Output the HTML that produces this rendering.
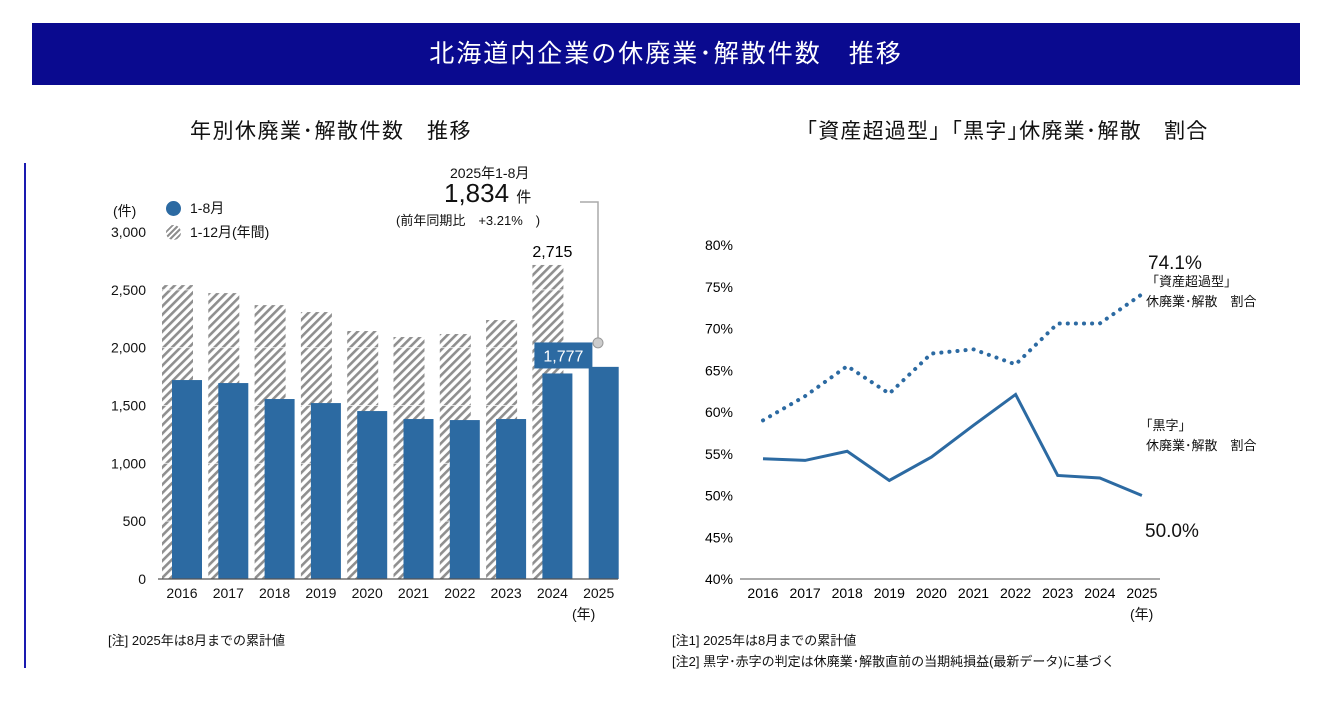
<!DOCTYPE html>
<html><head><meta charset="utf-8">
<style>
body{margin:0;width:1344px;height:712px;background:#fff;font-family:"Liberation Sans","Noto Sans CJK JP",sans-serif;overflow:hidden;position:relative;color:#111}
.t{position:absolute;white-space:nowrap}
</style></head><body>
<div style="position:absolute;left:32px;top:23px;width:1268px;height:62px;background:#0a0a8f;color:#fff;font-size:25px;line-height:62px;text-align:center;letter-spacing:2px">北海道内企業の休廃業･解散件数　推移</div>
<div style="position:absolute;left:24px;top:163px;width:2px;height:505px;background:#1a1ab0"></div>
<div class="t" style="left:190px;top:115px;font-size:21px;letter-spacing:1.5px">年別休廃業･解散件数　推移</div>
<div class="t" style="left:796px;top:115px;font-size:21px;letter-spacing:1.2px">「資産超過型」｢黒字｣休廃業･解散　割合</div>
<svg id="left" width="1344" height="712" style="position:absolute;left:0;top:0" font-family="Liberation Sans, Noto Sans CJK JP, sans-serif">
<defs><pattern id="hatch" width="6" height="6" patternUnits="userSpaceOnUse" patternTransform="rotate(45)"><rect width="6" height="6" fill="#fff"/><rect width="2.6" height="6" fill="#8f8f8f"/></pattern></defs>
</svg>
<script>
const years=["2016","2017","2018","2019","2020","2021","2022","2023","2024","2025"];
const annual=[2541,2472,2368,2308,2144,2092,2118,2239,2715,null];
const janAug=[1720,1694,1556,1521,1452,1383,1374,1383,1777,1834];
const yTicks=[0,500,1000,1500,2000,2500,3000];
const pctTicks=[40,45,50,55,60,65,70,75,80];
const assetRatio=[59.0,61.9,65.5,62.2,67.0,67.5,65.7,70.6,70.6,74.1];
const profitRatio=[54.4,54.2,55.3,51.8,54.6,58.4,62.1,52.4,52.1,50.0];
const NS="http://www.w3.org/2000/svg";
const svg=document.getElementById('left');
function mk(t,a,p){const e=document.createElementNS(NS,t);for(const k in a)e.setAttribute(k,a[k]);(p||svg).appendChild(e);return e;}
const yL=v=>579-v*(347/3000);
const xL=i=>182+i*46.3;
yTicks.forEach(v=>{const t=mk('text',{x:146,y:yL(v)+5,'text-anchor':'end','font-size':14,fill:'#111'});t.textContent=v.toLocaleString('en-US');

});
annual.forEach((v,i)=>{if(v==null)return;const r=mk('rect',{x:xL(i)-20,y:yL(v),width:31,height:579-yL(v),fill:'url(#hatch)'});

});
yTicks.forEach(v=>{if(v===0)return;const g=mk('line',{x1:158,x2:618,y1:yL(v),y2:yL(v),stroke:'#fff','stroke-width':1,opacity:0.7});

});
janAug.forEach((v,i)=>{const r=mk('rect',{x:xL(i)-10,y:yL(v),width:30,height:579-yL(v),fill:'#2c6aa2'});

});
mk('line',{x1:158,x2:618,y1:579,y2:579,stroke:'#555','stroke-width':1.2});
years.forEach((y,i)=>{const t=mk('text',{x:xL(i),y:598,'text-anchor':'middle','font-size':14,fill:'#111'});t.textContent=y;

});
let t=mk('text',{x:xL(8),y:257,'text-anchor':'middle','font-size':16});t.textContent=annual[8].toLocaleString('en-US');


mk('rect',{x:xL(8)-18,y:yL(janAug[8])-31,width:58,height:26,fill:'#2c6aa2'});
t=mk('text',{x:xL(8)+11,y:yL(janAug[8])-12,'text-anchor':'middle','font-size':16,fill:'#fff'});t.textContent=janAug[8].toLocaleString('en-US');


mk('polyline',{points:`580,202 598,202 598,${yL(janAug[9])-22}`,fill:'none',stroke:'#aaa','stroke-width':1.5});
mk('circle',{cx:598,cy:yL(janAug[9])-24,r:5,fill:'#ccc',stroke:'#999'});
const yR=v=>579-(v-40)*8.35;
const xR=i=>763+i*42.1;
pctTicks.forEach(v=>{const t=mk('text',{x:733,y:yR(v)+5,'text-anchor':'end','font-size':14});t.textContent=v+'%';

});
mk('line',{x1:740,x2:1160,y1:579,y2:579,stroke:'#555','stroke-width':1});
years.forEach((y,i)=>{const t=mk('text',{x:xR(i),y:598,'text-anchor':'middle','font-size':14});t.textContent=y;

});
let p=mk('polyline',{points:assetRatio.map((v,i)=>xR(i)+','+yR(v)).join(' '),fill:'none',stroke:'#2c6aa2','stroke-width':4,'stroke-dasharray':'0.1 8','stroke-linecap':'round'});


p=mk('polyline',{points:profitRatio.map((v,i)=>xR(i)+','+yR(v)).join(' '),fill:'none',stroke:'#2c6aa2','stroke-width':3});


</script>
<div class="t" style="left:113px;top:201px;font-size:14px">(件)</div>
<div style="position:absolute;left:166px;top:201px;width:15px;height:15px;border-radius:50%;background:#2c6aa2"></div>
<div class="t" style="left:190px;top:198px;font-size:14px">1-8月</div>
<div style="position:absolute;left:166px;top:225px;width:15px;height:15px;border-radius:50%;background:repeating-linear-gradient(135deg,#8f8f8f 0 2px,#fff 2px 4px)"></div>
<div class="t" style="left:190px;top:222px;font-size:14px">1-12月(年間)</div>
<div class="t" style="left:450px;top:163px;font-size:14px">2025年1-8月</div>
<div class="t" style="left:444px;top:178px;font-size:26px">1,834 <span style="font-size:15px">件</span></div>
<div class="t" style="left:396px;top:210px;font-size:13px">(前年同期比　+3.21%　)</div>
<div class="t" style="left:572px;top:604px;font-size:14px">(年)</div>
<div class="t" style="left:108px;top:630px;font-size:13px">[注] 2025年は8月までの累計値</div>
<div class="t" style="left:1130px;top:604px;font-size:14px">(年)</div>
<div class="t" style="left:1148px;top:253px;font-size:19px">74.1%</div>
<div class="t" style="left:1146px;top:272px;font-size:13px;line-height:20px">「資産超過型」<br>休廃業･解散　割合</div>
<div class="t" style="left:1146px;top:416px;font-size:13px;line-height:20px">｢黒字｣<br>休廃業･解散　割合</div>
<div class="t" style="left:1145px;top:521px;font-size:19px">50.0%</div>
<div class="t" style="left:672px;top:630px;font-size:13px">[注1] 2025年は8月までの累計値</div>
<div class="t" style="left:672px;top:651px;font-size:13px">[注2] 黒字･赤字の判定は休廃業･解散直前の当期純損益(最新データ)に基づく</div>
</body></html>
